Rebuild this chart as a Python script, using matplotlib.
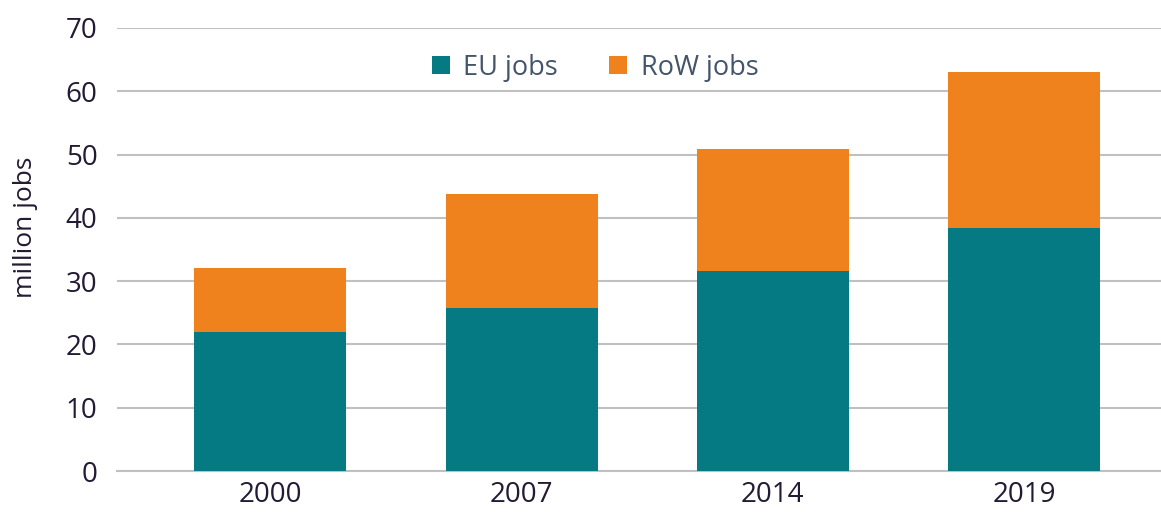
import matplotlib.pyplot as plt
import numpy as np

years = ["2000", "2007", "2014", "2019"]
eu_jobs = [21.9, 25.8, 31.6, 38.4]
row_jobs = [10.2, 17.9, 19.3, 24.6]

teal = "#057a82"
orange = "#ef821d"
text_col = "#231a33"

plt.rcParams["font.family"] = ["Open Sans", "DejaVu Sans"]

fig = plt.figure(figsize=(11.61, 5.12), dpi=100)
ax = fig.add_axes([117 / 1161, 1 - 471 / 512, (1161 - 117) / 1161, (471 - 28) / 512])

x = np.arange(len(years))
w = 0.605
ax.bar(x, eu_jobs, width=w, color=teal, label="EU jobs", zorder=3)
ax.bar(x, row_jobs, width=w, bottom=eu_jobs, color=orange, label="RoW jobs", zorder=3)

ax.set_ylim(0, 70)
ax.set_xlim(-0.61, 3.545)
ax.set_yticks(range(0, 71, 10))
ax.set_xticks(x)
ax.set_xticklabels(years)
ax.yaxis.grid(True, color="#c0c0c0", linewidth=1.5, zorder=0)
for s in ["top", "right", "left"]:
    ax.spines[s].set_visible(False)
ax.spines["bottom"].set_color("#c0c0c0")
ax.spines["bottom"].set_linewidth(1.5)
ax.tick_params(axis="both", length=0, labelsize=20, colors=text_col)
ax.tick_params(axis="y", pad=14)
ax.tick_params(axis="x", pad=7)
ax.set_ylabel("million jobs", fontsize=19, color=text_col)
ax.yaxis.set_label_coords(-0.076, 0.55)

leg = ax.legend(loc="upper center", bbox_to_anchor=(0.458, 0.997), ncol=2, frameon=False,
                fontsize=19.5, handlelength=0.65, handleheight=0.65, columnspacing=1.9,
                handletextpad=0.5)
for t in leg.get_texts():
    t.set_color("#44546a")

fig.savefig("out.png", dpi=100)
